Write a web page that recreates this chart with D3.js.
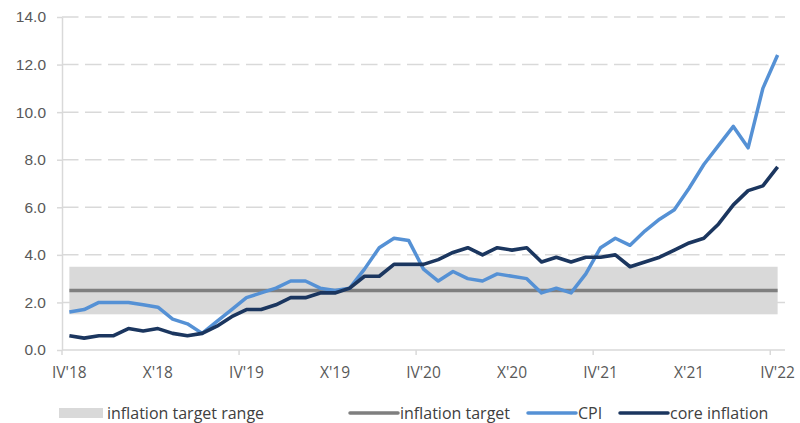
<!DOCTYPE html>
<html>
<head>
<meta charset="utf-8">
<script src="https://cdnjs.cloudflare.com/ajax/libs/d3/7.8.5/d3.min.js"></script>
<style>
  body { margin: 0; background: #fff; }
  svg { display: block; font-family: "Open Sans", sans-serif; }
  .tick-label { fill: #595959; font-size: 15.5px; }
  .legend-label { fill: #404040; font-size: 16px; }
</style>
</head>
<body>
<div id="chart"></div>
<script>

// months, April 2018 - April 2022
const months = [
  "IV'18", "V'18", "VI'18", "VII'18", "VIII'18", "IX'18", "X'18", "XI'18", "XII'18",
  "I'19", "II'19", "III'19", "IV'19", "V'19", "VI'19", "VII'19", "VIII'19", "IX'19", "X'19", "XI'19", "XII'19",
  "I'20", "II'20", "III'20", "IV'20", "V'20", "VI'20", "VII'20", "VIII'20", "IX'20", "X'20", "XI'20", "XII'20",
  "I'21", "II'21", "III'21", "IV'21", "V'21", "VI'21", "VII'21", "VIII'21", "IX'21", "X'21", "XI'21", "XII'21",
  "I'22", "II'22", "III'22", "IV'22"
];

const cpi = [
  1.6, 1.7, 2.0, 2.0, 2.0, 1.9, 1.8, 1.3, 1.1,
  0.7, 1.2, 1.7, 2.2, 2.4, 2.6, 2.9, 2.9, 2.6, 2.5, 2.6, 3.4,
  4.3, 4.7, 4.6, 3.4, 2.9, 3.3, 3.0, 2.9, 3.2, 3.1, 3.0, 2.4,
  2.6, 2.4, 3.2, 4.3, 4.7, 4.4, 5.0, 5.5, 5.9, 6.8, 7.8, 8.6,
  9.4, 8.5, 11.0, 12.4
];

const core = [
  0.6, 0.5, 0.6, 0.6, 0.9, 0.8, 0.9, 0.7, 0.6,
  0.7, 1.0, 1.4, 1.7, 1.7, 1.9, 2.2, 2.2, 2.4, 2.4, 2.6, 3.1,
  3.1, 3.6, 3.6, 3.6, 3.8, 4.1, 4.3, 4.0, 4.3, 4.2, 4.3, 3.7,
  3.9, 3.7, 3.9, 3.9, 4.0, 3.5, 3.7, 3.9, 4.2, 4.5, 4.7, 5.3,
  6.1, 6.7, 6.9, 7.7
];

const target = 2.5;
const targetRange = [1.5, 3.5];

const yTicks = [0, 2, 4, 6, 8, 10, 12, 14];
const xLabelMonths = ["IV'18", "X'18", "IV'19", "X'19", "IV'20", "X'20", "IV'21", "X'21", "IV'22"];
const xTickMonths = ["IV'18", "IV'19", "IV'20", "IV'21", "IV'22"];

const width = 800;
const height = 423;
const margin = { top: 17, right: 15, bottom: 73, left: 62 };

const svg = d3.select("#chart").append("svg")
  .attr("width", width)
  .attr("height", height);

const x = d3.scaleBand()
  .domain(months)
  .range([margin.left, width - margin.right])
  .padding(0);

const cx = d => x(d) + x.bandwidth() / 2;

const y = d3.scaleLinear()
  .domain([0, 14])
  .range([height - margin.bottom, margin.top]);

// gridlines

svg.append("g")
  .selectAll("line")
  .data(yTicks.filter(d => d > 0))
  .join("line")
  .attr("x1", margin.left)
  .attr("x2", width - margin.right)
  .attr("y1", d => y(d))
  .attr("y2", d => y(d))
  .attr("stroke", "#d9d9d9")
  .attr("stroke-width", 1.5)
  .attr("stroke-dasharray", "16.5,6.5");

// y axis

const yAxis = svg.append("g")
  .attr("transform", `translate(${margin.left},0)`)
  .call(d3.axisLeft(y).tickValues(yTicks).tickSize(5).tickSizeOuter(0).tickPadding(11).tickFormat(d3.format(".1f")));

yAxis.select(".domain").attr("stroke", "#d9d9d9").attr("stroke-width", 1.5);
yAxis.selectAll(".tick line").attr("stroke", "#d9d9d9").attr("stroke-width", 1.5);
yAxis.selectAll(".tick text").attr("class", "tick-label").attr("font-family", null).attr("font-size", null);

// x axis

svg.append("line")
  .attr("x1", margin.left)
  .attr("x2", width - margin.right)
  .attr("y1", y(0))
  .attr("y2", y(0))
  .attr("stroke", "#d9d9d9")
  .attr("stroke-width", 1.5);

svg.append("g")
  .selectAll("line")
  .data(xTickMonths)
  .join("line")
  .attr("x1", d => x(d))
  .attr("x2", d => x(d))
  .attr("y1", y(0))
  .attr("y2", y(0) + 5)
  .attr("stroke", "#d9d9d9")
  .attr("stroke-width", 1.5);

svg.append("g")
  .selectAll("text")
  .data(xLabelMonths)
  .join("text")
  .attr("class", "tick-label")
  .attr("x", d => cx(d))
  .attr("y", y(0) + 28)
  .attr("text-anchor", "middle")
  .text(d => d);

// target range and target

const first = months[0];
const last = months[months.length - 1];

svg.append("rect")
  .attr("x", cx(first))
  .attr("width", cx(last) - cx(first))
  .attr("y", y(targetRange[1]))
  .attr("height", y(targetRange[0]) - y(targetRange[1]))
  .attr("fill", "#d9d9d9");

svg.append("line")
  .attr("x1", cx(first))
  .attr("x2", cx(last))
  .attr("y1", y(target))
  .attr("y2", y(target))
  .attr("stroke", "#7f7f7f")
  .attr("stroke-width", 3.5);

// series lines

const line = d3.line()
  .x((d, i) => cx(months[i]))
  .y(d => y(d));

svg.append("path")
  .datum(cpi)
  .attr("d", line)
  .attr("fill", "none")
  .attr("stroke", "#5591d5")
  .attr("stroke-width", 3.5)
  .attr("stroke-linejoin", "round");

svg.append("path")
  .datum(core)
  .attr("d", line)
  .attr("fill", "none")
  .attr("stroke", "#1b365f")
  .attr("stroke-width", 3.6)
  .attr("stroke-linejoin", "round");

// legend

const legendY = 413;
const legend = svg.append("g");

legend.append("rect")
  .attr("x", 59).attr("y", legendY - 5)
  .attr("width", 44).attr("height", 10)
  .attr("fill", "#d9d9d9");
legend.append("text")
  .attr("class", "legend-label")
  .attr("x", 107).attr("y", legendY).attr("dy", "0.35em")
  .text("inflation target range");

const legendLines = [
  { x: 350, color: "#7f7f7f", label: "inflation target" },
  { x: 528, color: "#5591d5", label: "CPI" },
  { x: 620, color: "#1b365f", label: "core inflation" }
];

legendLines.forEach(d => {
  legend.append("line")
    .attr("x1", d.x).attr("x2", d.x + 48)
    .attr("y1", legendY).attr("y2", legendY)
    .attr("stroke", d.color)
    .attr("stroke-width", 3.5)
    .attr("stroke-linecap", "round");
  legend.append("text")
    .attr("class", "legend-label")
    .attr("x", d.x + 50).attr("y", legendY).attr("dy", "0.35em")
    .text(d.label);
});

</script>
</body>
</html>
